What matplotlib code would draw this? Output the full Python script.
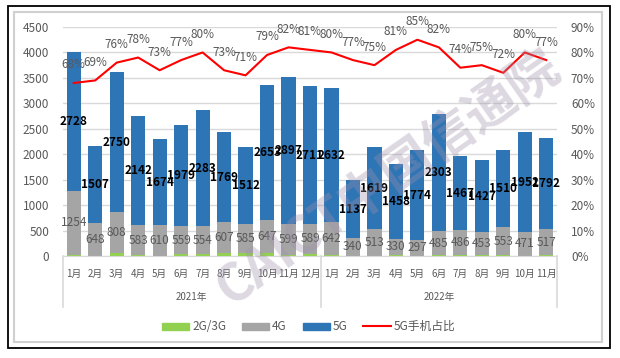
import matplotlib
matplotlib.use('Agg')
import matplotlib.pyplot as plt
import matplotlib.transforms as mtransforms
from matplotlib.patches import Rectangle
from matplotlib.lines import Line2D
import numpy as np

plt.rcParams['font.family'] = ['Noto Sans CJK SC', 'DejaVu Sans']

months = ['1月', '2月', '3月', '4月', '5月', '6月', '7月', '8月', '9月', '10月', '11月', '12月',
          '1月', '2月', '3月', '4月', '5月', '6月', '7月', '8月', '9月', '10月', '11月']
years = ['2021年', '2022年']
year_counts = [12, 11]
g23 = [28, 4, 51, 17, 6, 32, 33, 54, 53, 60, 24, 40,
       26, 9, 8, 12, 9, 12, 17, 10, 17, 7, 11]
g4 = [1254, 648, 808, 583, 610, 559, 554, 607, 585, 647, 599, 589,
      642, 340, 513, 330, 297, 485, 486, 453, 553, 471, 517]
g5 = [2728, 1507, 2750, 2142, 1674, 1979, 2283, 1769, 1512, 2653, 2897, 2711,
      2632, 1137, 1619, 1458, 1774, 2303, 1467, 1427, 1510, 1952, 1792]
share = [68, 69, 76, 78, 73, 77, 80, 73, 71, 79, 82, 81,
         80, 77, 75, 81, 85, 82, 74, 75, 72, 80, 77]
series_names = ['2G/3G', '4G', '5G', '5G手机占比']

C_GREEN = '#92D050'
C_GREY = '#A5A5A5'
C_BLUE = '#2E75B6'
C_RED = '#FF0000'
C_TXT = '#595959'
C_GRID = '#D9D9D9'

W, H = 620, 358
fig = plt.figure(figsize=(W / 100, H / 100), dpi=100)


def px(x0, y0, x1, y1):
    return [x0 / W, 1 - y1 / H, (x1 - x0) / W, (y1 - y0) / H]


# borders
fig.patches.append(Rectangle((8 / W, 1 - 348 / H), 602 / W, 342 / H, transform=fig.transFigure,
                             fill=False, edgecolor='black', lw=1.3, zorder=0))
fig.patches.append(Rectangle((14 / W, 1 - 342 / H), 588 / W, 330 / H, transform=fig.transFigure,
                             fill=False, edgecolor='#D0D0D0', lw=1.5, zorder=0))

ax = fig.add_axes(px(63, 27, 557, 256))
x = np.arange(len(months))
bw = 0.66
b4 = np.array(g23)
b5 = np.array(g23) + np.array(g4)
ax.bar(x, g23, bw, color=C_GREEN, zorder=2)
ax.bar(x, g4, bw, bottom=b4, color=C_GREY, zorder=2)
ax.bar(x, g5, bw, bottom=b5, color=C_BLUE, zorder=2)
ax.set_xlim(-0.5, len(x) - 0.5)
ax.set_ylim(0, 4500)
ax.set_yticks(range(0, 4501, 500))
ax.grid(axis='y', color=C_GRID, lw=1, zorder=0)
ax.set_axisbelow(True)
for s in ['top', 'left', 'right']:
    ax.spines[s].set_visible(False)
ax.spines['bottom'].set_color(C_GRID)
ax.set_xticks(x)
ax.set_xticklabels(months, fontsize=7, color=C_TXT)
ax.tick_params(axis='x', length=0, pad=9)
ax.tick_params(axis='y', length=0, pad=10, labelsize=8.5, labelcolor=C_TXT)

for i in range(len(x)):
    ax.text(i, b4[i] + g4[i] / 2, str(g4[i]), ha='center', va='center', fontsize=8.5,
            color=C_TXT, zorder=4)
    ax.text(i, b5[i] + g5[i] / 2, str(g5[i]), ha='center', va='center', fontsize=8.5,
            color='black', fontweight='bold', zorder=4)

# multi-level category axis
bt = mtransforms.blended_transform_factory(ax.transData, ax.transAxes)
edges = [-0.5]
for c in year_counts:
    edges.append(edges[-1] + c)
for e in edges:
    ax.add_line(Line2D([e, e], [0, -51 / 229], transform=bt, color=C_GRID, lw=1.2, clip_on=False))
for j, yname in enumerate(years):
    ax.text((edges[j] + edges[j + 1]) / 2, -41 / 229, yname, transform=bt, ha='center',
            va='center', fontsize=7, color=C_TXT)

ax2 = ax.twinx()
ax2.plot(x, np.array(share) / 100, color=C_RED, lw=1.5, zorder=3)
ax2.set_ylim(0, 0.9)
ax2.set_yticks(np.arange(0, 0.91, 0.1))
ax2.set_yticklabels([f'{int(round(v * 100))}%' for v in np.arange(0, 0.91, 0.1)])
ax2.tick_params(axis='y', length=0, pad=10, labelsize=8.5, labelcolor=C_TXT)
for s in ax2.spines.values():
    s.set_visible(False)
for i, v in enumerate(share):
    ax2.annotate(f'{v}%', (i, v / 100), xytext=(0, 13), textcoords='offset points',
                 ha='center', va='center', fontsize=8.5, color=C_TXT, zorder=5)

# legend
ly = 1 - 326 / H
for (x0, x1, col, name) in [(162, 189, C_GREEN, series_names[0]), (242, 269, C_GREY, series_names[1]),
                            (303, 330, C_BLUE, series_names[2])]:
    fig.patches.append(Rectangle((x0 / W, ly - 3.5 / H), (x1 - x0) / W, 7 / H,
                                 transform=fig.transFigure, color=col))
    fig.text((x1 + 3) / W, ly, name, ha='left', va='center', fontsize=8.5, color=C_TXT)
fig.lines.append(Line2D([363 / W, 391 / W], [ly, ly], transform=fig.transFigure, color=C_RED, lw=1.5))
fig.text(394 / W, ly, series_names[3], ha='left', va='center', fontsize=8.5, color=C_TXT)

# watermark
fig.text(388 / W, 1 - 178 / H, 'CAICT中国信通院', rotation=35, ha='center', va='center',
         fontsize=37, fontweight='bold', color='#9E90A8', alpha=0.35, zorder=10)

fig.savefig('out.png', dpi=100)
